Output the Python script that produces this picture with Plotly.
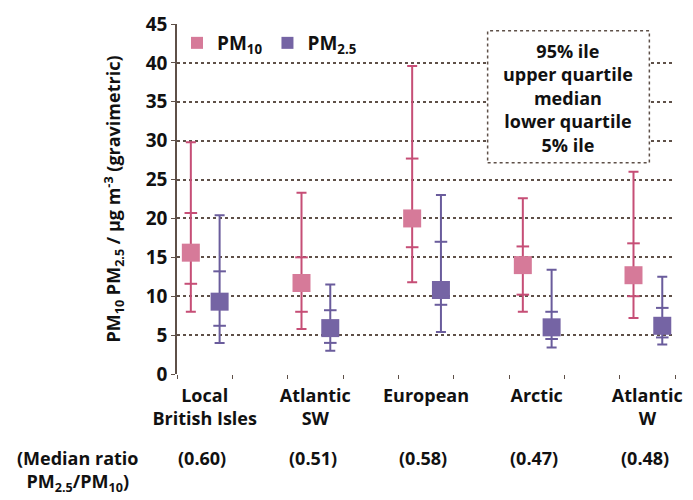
import plotly.graph_objects as go

categories = ["Local<br>British Isles", "Atlantic<br>SW", "European", "Arctic", "Atlantic<br>W"]
ratios = ["(0.60)", "(0.51)", "(0.58)", "(0.47)", "(0.48)"]

pm10_p5 = [8.0, 5.8, 11.8, 8.0, 7.2]
pm10_lq = [11.6, 8.0, 16.3, 10.2, 10.0]
pm10_med = [15.6, 11.7, 20.0, 14.0, 12.7]
pm10_uq = [20.7, 15.0, 27.7, 16.4, 16.8]
pm10_p95 = [29.8, 23.3, 39.6, 22.6, 26.0]

pm25_p5 = [4.0, 3.0, 5.4, 3.4, 3.8]
pm25_lq = [6.2, 4.0, 8.9, 4.5, 4.7]
pm25_med = [9.3, 5.9, 10.8, 6.0, 6.2]
pm25_uq = [13.2, 8.2, 17.0, 8.0, 8.5]
pm25_p95 = [20.4, 11.5, 23.0, 13.4, 12.5]

FONT = "Open Sans"
FS = 18
PM10_C = "#c64e76"
PM10_M = "#d67a99"
PM25_C = "#6a5c9c"
PM25_M = "#7564a4"
GRID = "#5e5048"

centers = [2 * i + 0.5 for i in range(len(categories))]
x10 = [c - 0.25 for c in centers]
x25 = [c + 0.27 for c in centers]

fig = go.Figure()

def add_ticks(xs, lq, uq, line_c):
    fig.add_trace(go.Scatter(
        x=xs + xs, y=lq + uq, mode="markers", showlegend=False, hoverinfo="skip",
        marker=dict(symbol="line-ew", size=9, line=dict(color=line_c, width=2)),
    ))

def add_med(xs, p5, med, p95, line_c, mark_c, name):
    fig.add_trace(go.Scatter(
        x=xs, y=med, mode="markers", name=name, showlegend=True,
        marker=dict(symbol="square", size=18, color=mark_c, line=dict(width=0)),
        error_y=dict(type="data", symmetric=False,
                     array=[b - m for b, m in zip(p95, med)],
                     arrayminus=[m - a for m, a in zip(med, p5)],
                     color=line_c, thickness=2, width=5),
    ))

add_ticks(x10, pm10_lq, pm10_uq, PM10_C)
add_ticks(x25, pm25_lq, pm25_uq, PM25_C)
add_med(x10, pm10_p5, pm10_med, pm10_p95, PM10_C, PM10_M, "PM<sub>10</sub>")
add_med(x25, pm25_p5, pm25_med, pm25_p95, PM25_C, PM25_M, "PM<sub>2.5</sub>")

fig.update_layout(
    width=693, height=500,
    margin=dict(l=177, r=11, t=16, b=126),
    plot_bgcolor="white", paper_bgcolor="white",
    font=dict(family=FONT, size=FS, color="#111111", weight="bold"),
    showlegend=True,
    legend=dict(orientation="h", x=0.0, y=1.0, xanchor="left", yanchor="top",
                bgcolor="rgba(0,0,0,0)", font=dict(size=19, family=FONT, weight="bold"),
                itemsizing="constant", traceorder="normal", itemwidth=30),
    xaxis=dict(
        range=[0, 9], tickvals=centers, ticktext=categories,
        ticks="", showgrid=False, zeroline=False, showline=False,
        tickfont=dict(size=FS, family=FONT, weight="bold"),
        ticklabelstandoff=9,
        minor=dict(ticks="outside", tick0=0, dtick=1, ticklen=4, tickcolor=GRID, showgrid=False),
        fixedrange=True,
    ),
    yaxis=dict(
        range=[0, 45], dtick=5, showgrid=True, gridcolor=GRID, griddash="dot", gridwidth=1.5,
        zeroline=False, showline=True, linecolor=GRID, linewidth=1.5,
        ticks="outside", ticklen=4, tickcolor=GRID,
        tickfont=dict(size=19, family=FONT, weight="bold"),
        title=dict(text="PM<sub>10</sub> PM<sub>2.5</sub> / µg m<sup>-3</sup> (gravimetric)",
                   font=dict(size=18, family=FONT, weight="bold"), standoff=20),
    ),
)

# key box
fig.add_shape(type="rect", xref="paper", yref="paper",
              x0=(492 - 177) / 505, x1=(656 - 177) / 505,
              y0=(374 - 158) / 358, y1=(374 - 23) / 358,
              line=dict(color=GRID, width=1.5, dash="dot"), fillcolor="white", layer="above")
fig.add_annotation(xref="paper", yref="paper", x=(574 - 177) / 505, y=(374 - 92) / 358,
                   xanchor="center", yanchor="middle",
                   text="95% ile<br>upper quartile<br>median<br>lower quartile<br>5% ile",
                   showarrow=False, align="center",
                   font=dict(size=18, family=FONT, weight="bold"))

# median ratio row
fig.add_annotation(xref="paper", yref="paper", x=(76 - 177) / 505, y=-(446 - 374) / 358,
                   xanchor="center", yanchor="top",
                   text="(Median ratio<br>PM<sub>2.5</sub>/PM<sub>10</sub>)", showarrow=False,
                   align="center", font=dict(size=18, family=FONT, weight="bold"))
for c, r in zip(centers, ratios):
    fig.add_annotation(xref="x", yref="paper", x=c - 0.05, y=-(446 - 374) / 358,
                       xanchor="center", yanchor="top",
                       text=r, showarrow=False, font=dict(size=18, family=FONT, weight="bold"))

fig.write_html("out.html")
